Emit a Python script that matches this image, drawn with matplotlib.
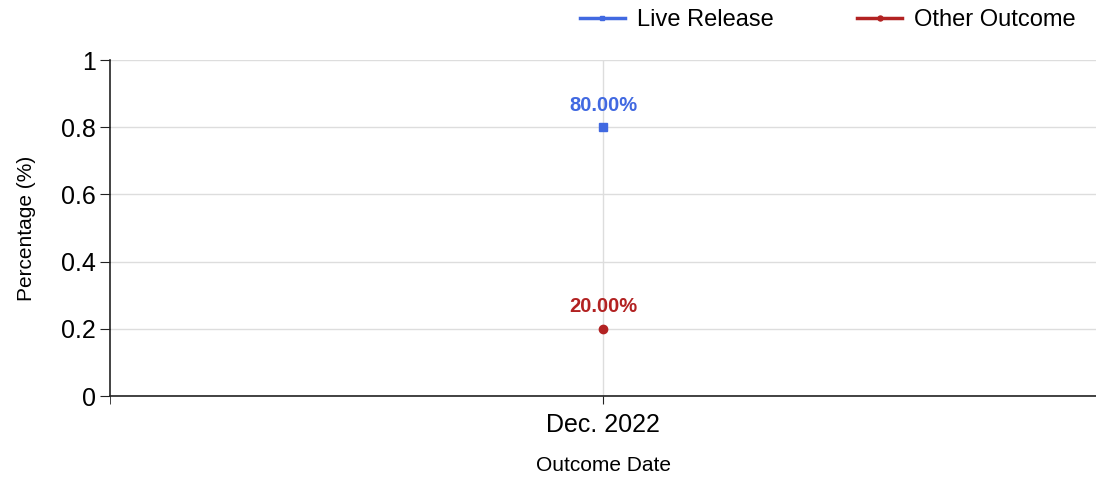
import matplotlib
matplotlib.use("Agg")
import matplotlib.pyplot as plt

categories = ["Dec. 2022"]
live_release = [0.8]
other_outcome = [0.2]
yticks = [0, 0.2, 0.4, 0.6, 0.8, 1]
ytick_labels = ["0", "0.2", "0.4", "0.6", "0.8", "1"]

plt.rcParams['font.family'] = ['Liberation Sans', 'DejaVu Sans']

fig = plt.figure(figsize=(10.96, 4.78), dpi=100)
ax = fig.add_axes([110/1096, 1-396/478, (1096-110)/1096, (396-60)/478])

blue = "#4169E1"
red = "#B22222"
x = list(range(len(categories)))
ax.plot(x, live_release, color=blue, marker="s", markersize=6, lw=2.5, label="Live Release")
ax.plot(x, other_outcome, color=red, marker="o", markersize=6, lw=2.5, label="Other Outcome")

for xi, v in zip(x, live_release):
    ax.annotate(f"{v*100:.2f}%", (xi, v), xytext=(0, 9), textcoords="offset points",
                ha="center", va="bottom", color=blue, fontsize=14.5, fontweight="bold")
for xi, v in zip(x, other_outcome):
    ax.annotate(f"{v*100:.2f}%", (xi, v), xytext=(0, 9), textcoords="offset points",
                ha="center", va="bottom", color=red, fontsize=14.5, fontweight="bold")

ax.set_xlim(-0.5, 0.5)
ax.set_ylim(0, 1)
ax.set_xticks(x)
ax.set_xticks([-0.5], minor=True)
ax.set_xticklabels(categories, fontsize=18)
ax.set_yticks(yticks)
ax.set_yticklabels(ytick_labels, fontsize=18)
ax.grid(True, which="major", color="#dddddd", lw=1)
ax.set_axisbelow(True)
for s in ["top", "right"]:
    ax.spines[s].set_visible(False)
for s in ["left", "bottom"]:
    ax.spines[s].set_color("#222222")
    ax.spines[s].set_linewidth(1.2)
ax.tick_params(axis="y", length=7, color="#222222", pad=3)
ax.tick_params(axis="x", which="both", length=6, color="#222222", pad=6)
ax.set_ylabel("Percentage (%)", fontsize=15, labelpad=18)
ax.set_xlabel("Outcome Date", fontsize=15, labelpad=14)

leg = fig.legend(loc="upper right", bbox_to_anchor=(0.99, 1.0), ncol=2, frameon=False,
                 fontsize=17, handlelength=1.9, handletextpad=0.5, columnspacing=3.55,
                 markerscale=0.6, borderaxespad=0.0)

fig.savefig("out.png", dpi=100)
